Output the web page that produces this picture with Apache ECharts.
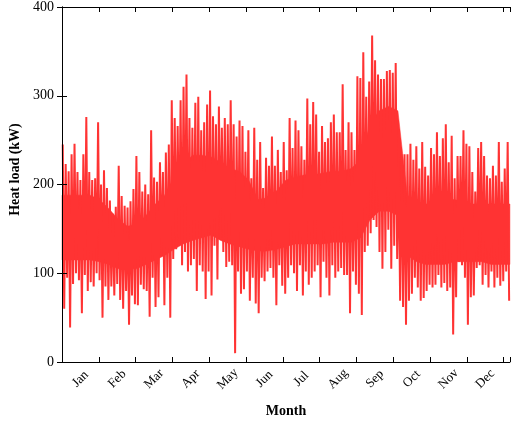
<!DOCTYPE html>
<html>
<head>
    <meta charset="utf-8">
    <title>Heat load</title>
    <script src="https://cdn.jsdelivr.net/npm/echarts@6/dist/echarts.min.js"></script>
    <style>
        html, body { margin: 0; padding: 0; background: #fff; }
        #chart { width: 512px; height: 423px; }
    </style>
</head>
<body>
<div id="chart"></div>
<script type="text/javascript">
    // month labels (one tick every 30 days, label in the middle)
    var months = ['Jan', 'Feb', 'Mar', 'Apr', 'May', 'Jun', 'Jul', 'Aug', 'Sep', 'Oct', 'Nov', 'Dec'];
    var yTicks = [0, 100, 200, 300, 400];

    // peak / dip load per ~2.4 day slot (kW)
    var hiLoad = [
        245, 223, 215, 234, 246, 214, 205, 234, 276, 214, 205, 207, 270, 200, 216, 196, 182, 167, 175, 221, 187, 176, 174, 181, 195,
        232, 214, 192, 200, 189, 261, 208, 203, 225, 214, 236, 245, 295, 275, 266, 295, 310, 324, 275, 264, 292, 299, 261, 270, 290,
        306, 277, 268, 288, 264, 275, 268, 295, 268, 254, 272, 266, 237, 261, 207, 264, 228, 248, 196, 230, 221, 254, 221, 239, 214,
        248, 216, 275, 241, 272, 261, 243, 228, 297, 268, 293, 279, 237, 266, 248, 252, 270, 279, 259, 259, 313, 239, 270, 259, 239,
        322, 320, 349, 299, 316, 368, 340, 324, 319, 319, 328, 329, 326, 337, 232, 234, 234, 234, 246, 228, 243, 218, 248, 220, 210,
        241, 234, 259, 232, 252, 268, 225, 255, 207, 232, 232, 261, 246, 243, 214, 192, 241, 248, 232, 210, 207, 221, 210, 248, 203, 218, 248
    ];
    var loLoad = [
        60, 95, 39, 88, 100, 92, 55, 98, 80, 90, 85, 100, 92, 50, 85, 70, 85, 75, 88, 70, 60, 80, 42, 75, 65,
        64, 87, 82, 80, 51, 95, 62, 73, 120, 64, 95, 50, 116, 127, 134, 109, 124, 102, 109, 116, 80, 109, 102, 71, 102,
        75, 131, 93, 138, 124, 107, 113, 109, 10, 102, 77, 82, 102, 69, 95, 66, 55, 95, 91, 102, 106, 95, 64, 109, 86,
        77, 95, 109, 100, 80, 109, 75, 102, 87, 95, 102, 109, 73, 113, 95, 75, 109, 95, 102, 106, 98, 98, 55, 102, 87,
        77, 53, 124, 131, 145, 160, 152, 124, 105, 124, 149, 105, 131, 116, 69, 62, 42, 69, 77, 95, 84, 69, 72, 80, 87,
        84, 87, 98, 84, 89, 80, 84, 31, 73, 113, 109, 95, 42, 73, 75, 106, 109, 87, 98, 84, 102, 84, 95, 86, 91, 102, 69
    ];

    // dense core of the band, every ~quarter month (kW)
    var coreTop = [
        188, 188, 188, 188, 183, 173, 161, 153, 155, 165, 178, 188, 208, 223, 233, 233, 231,
        225, 218, 215, 205, 183, 185, 193, 205, 208, 211, 211, 213, 215, 215, 218, 228,
        268, 283, 288, 283, 188, 178, 178, 178, 183, 183, 181, 178, 178, 178, 178, 178
    ];
    var coreBot = [
        115, 115, 115, 115, 113, 110, 105, 105, 105, 110, 115, 120, 127, 133, 137, 140, 143,
        137, 133, 130, 127, 125, 125, 127, 130, 133, 133, 133, 133, 135, 135, 135, 140,
        160, 170, 170, 165, 120, 113, 110, 110, 110, 113, 113, 113, 113, 110, 110, 110
    ];

    var DAYS = 365;
    var step = DAYS / hiLoad.length;
    var zigzag = [];
    for (var i = 0; i < hiLoad.length; i++) {
        zigzag.push([i * step + step * 0.25, hiLoad[i]]);
        zigzag.push([i * step + step * 0.75, loLoad[i]]);
    }
    var coreStep = DAYS / (coreTop.length - 1);

    var serif = "'Liberation Serif', 'Times New Roman', serif";
    var red = '#ff3333';
    var boxLine = { show: true, lineStyle: { color: '#000', width: 1 } };
    var inTick = { show: true, inside: true, length: 5, lineStyle: { color: '#000', width: 1 } };

    // core band as one polygon, corners placed through the axes
    function renderCore(params, api) {
        if (params.dataIndex !== 0) return;
        var pts = [];
        for (var k = 0; k < coreTop.length; k++) pts.push(api.coord([k * coreStep, coreTop[k]]));
        for (var j = coreBot.length - 1; j >= 0; j--) pts.push(api.coord([j * coreStep, coreBot[j]]));
        return {
            type: 'polygon',
            shape: { points: pts },
            style: { fill: red, stroke: red, lineWidth: 0.5 }
        };
    }

    var myChart = echarts.init(document.getElementById('chart'));
    myChart.setOption({
        animation: false,
        grid: { left: 55, right: 2, top: 5, bottom: 49 },
        xAxis: [
            {
                type: 'value', min: 0, max: DAYS, interval: 30, position: 'bottom', z: 10,
                axisLine: boxLine, axisTick: inTick,
                axisLabel: { show: false }, splitLine: { show: false },
                name: 'Month', nameLocation: 'middle', nameGap: 42,
                nameTextStyle: { fontFamily: serif, fontWeight: 'bold', fontSize: 14, color: '#000' }
            },
            {
                // only carries the month names between ticks
                type: 'value', min: 0, max: DAYS, interval: 15, position: 'bottom',
                axisLine: { show: false }, axisTick: { show: false }, splitLine: { show: false },
                axisLabel: {
                    rotate: 45, align: 'center', verticalAlign: 'middle', margin: 17,
                    fontFamily: serif, fontSize: 13, color: '#000',
                    formatter: function (v) {
                        var k = (v - 15) / 30;
                        if (k >= 0 && k < 12 && Math.abs(k - Math.round(k)) < 1e-6) return months[Math.round(k)];
                        return '';
                    }
                }
            },
            {
                type: 'value', min: 0, max: DAYS, interval: 30, position: 'top', z: 10,
                axisLine: boxLine, axisTick: inTick,
                axisLabel: { show: false }, splitLine: { show: false }
            }
        ],
        yAxis: [
            {
                type: 'value', min: yTicks[0], max: yTicks[yTicks.length - 1], interval: 100, position: 'left', z: 10,
                axisLine: boxLine, axisTick: inTick, splitLine: { show: false },
                axisLabel: { fontFamily: serif, fontSize: 14, color: '#000', margin: 8 },
                name: 'Heat load (kW)', nameLocation: 'middle', nameGap: 40,
                nameTextStyle: { fontFamily: serif, fontWeight: 'bold', fontSize: 14, color: '#000', padding: [0, 0, 0, 30] }
            },
            {
                type: 'value', min: yTicks[0], max: yTicks[yTicks.length - 1], interval: 100, position: 'right', z: 10,
                axisLine: boxLine, axisTick: inTick, splitLine: { show: false },
                axisLabel: { show: false }
            }
        ],
        series: [
            {
                type: 'custom', renderItem: renderCore, silent: true,
                data: [[0, coreBot[0]]], encode: { x: 0, y: 1 }
            },
            {
                type: 'line', data: zigzag, symbol: 'none', silent: true,
                lineStyle: { width: 2, color: red }
            }
        ]
    });
</script>
</body>
</html>
